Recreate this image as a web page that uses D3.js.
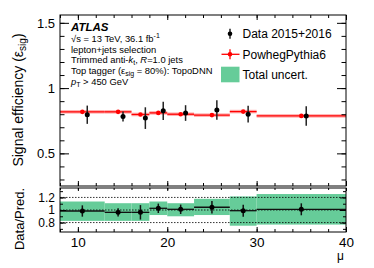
<html>
<script src='https://d3js.org/d3.v7.min.js'></script>
<style>
body {margin:0; background:#fff;}
text {font-family: 'Liberation Sans', Arial, sans-serif; fill:#000;}
.tick line {stroke:#000;}
</style>
<body onload='init()'>
<svg width=374 height=268></svg>
<script>
// bins in mu and the values
var binEdges = [8, 13, 16, 18, 20, 23, 27, 30, 40];
var mcEff    = [0.818, 0.818, 0.798, 0.810, 0.800, 0.793, 0.820, 0.787];
var dataEff  = [0.796, 0.783, 0.770, 0.826, 0.809, 0.832, 0.800, 0.786];
var dataErr  = [0.070, 0.038, 0.083, 0.070, 0.060, 0.075, 0.064, 0.074];
var ratio    = [0.984, 0.963, 0.963, 1.027, 1.011, 1.044, 0.989, 1.011];
var ratioErr = [0.090, 0.065, 0.115, 0.075, 0.075, 0.100, 0.095, 0.095];
var uncLo    = [0.827, 0.827, 0.827, 0.920, 0.900, 0.920, 0.750, 0.768];
var uncHi    = [1.135, 1.108, 1.108, 1.135, 1.108, 1.178, 1.216, 1.254];
var dataShift = 0.55;   // data markers drawn a bit right of bin centre

var xTicks = [10, 20, 30, 40];
var yTicks = [0.5, 1, 1.5];
var rTicks = [0.8, 1, 1.2];
var rLines = [0.8, 1, 1.2];

var legendItems = ["Data 2015+2016", "PowhegPythia6", "Total uncert."];

function init() {
  var svg = d3.select('svg');
  var green = "#66cc99";

  var x  = d3.scaleLinear().domain([8, 40]).range([60, 346]);
  var y  = d3.scaleLinear().domain([0.25, 1.56]).range([186, 15]);
  var yr = d3.scaleLinear().domain([0.65, 1.35]).range([232, 188]);

  var bins = d3.range(mcEff.length).map(function(i) {
    return {lo: binEdges[i], hi: binEdges[i+1], c: (binEdges[i] + binEdges[i+1]) / 2,
            mc: mcEff[i], d: dataEff[i], de: dataErr[i], r: ratio[i], re: ratioErr[i],
            ulo: uncLo[i], uhi: uncHi[i]};
  });

  // ---- ratio panel: uncertainty band
  var rp = svg.append('g');
  rp.selectAll('rect.unc').data(bins).enter().append('rect')
    .attr('x', function(d) { return x(d.lo); })
    .attr('width', function(d) { return x(d.hi) - x(d.lo); })
    .attr('y', function(d) { return yr(d.uhi); })
    .attr('height', function(d) { return yr(d.ulo) - yr(d.uhi); })
    .attr('fill', green);
  rp.selectAll('line.ref').data(rLines).enter().append('line')
    .attr('x1', x(8)).attr('x2', x(40))
    .attr('y1', function(d) { return yr(d); }).attr('y2', function(d) { return yr(d); })
    .attr('stroke', '#000').attr('stroke-width', 0.8).attr('stroke-dasharray', '1.5,1.5');
  rp.selectAll('line.rh').data(bins).enter().append('line')
    .attr('x1', function(d) { return x(d.lo); }).attr('x2', function(d) { return x(d.hi); })
    .attr('y1', function(d) { return yr(d.r); }).attr('y2', function(d) { return yr(d.r); })
    .attr('stroke', '#111').attr('stroke-width', 1.3);
  rp.selectAll('line.rv').data(bins).enter().append('line')
    .attr('x1', function(d) { return x(d.c); }).attr('x2', function(d) { return x(d.c); })
    .attr('y1', function(d) { return yr(d.r - d.re); }).attr('y2', function(d) { return yr(d.r + d.re); })
    .attr('stroke', '#111').attr('stroke-width', 1.5);
  rp.selectAll('circle').data(bins).enter().append('circle')
    .attr('cx', function(d) { return x(d.c); }).attr('cy', function(d) { return yr(d.r); })
    .attr('r', 2.5).attr('fill', '#000');

  // ---- main panel: MC lines
  var mp = svg.append('g');
  mp.selectAll('rect.mcband').data(bins).enter().append('rect')
    .attr('x', function(d) { return x(d.lo); })
    .attr('width', function(d) { return x(d.hi) - x(d.lo); })
    .attr('y', function(d) { return y(d.mc) - 1.8; })
    .attr('height', 3.6).attr('fill', '#ffb0b0');
  mp.selectAll('line.mc').data(bins).enter().append('line')
    .attr('x1', function(d) { return x(d.lo); }).attr('x2', function(d) { return x(d.hi); })
    .attr('y1', function(d) { return y(d.mc); }).attr('y2', function(d) { return y(d.mc); })
    .attr('stroke', '#ff0000').attr('stroke-width', 1.3);
  mp.selectAll('circle.mc').data(bins).enter().append('circle')
    .attr('cx', function(d) { return x(d.c); }).attr('cy', function(d) { return y(d.mc); })
    .attr('r', 2.3).attr('fill', '#ff0000');
  // data
  mp.selectAll('line.dv').data(bins).enter().append('line')
    .attr('x1', function(d) { return x(d.c + dataShift); }).attr('x2', function(d) { return x(d.c + dataShift); })
    .attr('y1', function(d) { return y(d.d - d.de); }).attr('y2', function(d) { return y(d.d + d.de); })
    .attr('stroke', '#222').attr('stroke-width', 1.5);
  mp.selectAll('circle.d').data(bins).enter().append('circle')
    .attr('cx', function(d) { return x(d.c + dataShift); }).attr('cy', function(d) { return y(d.d); })
    .attr('r', 2.5).attr('fill', '#000');

  // ---- axes, ROOT style ticks on every side
  function ticks(axis, scale, major, minor, tx, ty, bigLen, smallLen, labels, fsize) {
    var g1 = svg.append('g').attr('transform', 'translate(' + tx + ',' + ty + ')')
      .call(axis(scale).tickValues(minor).tickSize(-smallLen).tickFormat(''));
    var g2 = svg.append('g').attr('transform', 'translate(' + tx + ',' + ty + ')')
      .call(axis(scale).tickValues(major).tickSize(-bigLen).tickPadding(5)
        .tickFormat(labels ? d3.format('~g') : ''));
    [g1, g2].forEach(function(g) {
      g.select('.domain').remove();
      g.selectAll('text').attr('font-size', fsize || 13).attr('font-family', "'Liberation Sans', Arial, sans-serif");
    });
    return g2;
  }
  var xMinor = d3.range(8, 40.01, 2);
  var yMinor = d3.range(0.3, 1.56, 0.1);
  var rMinor = d3.range(0.7, 1.35, 0.1);
  // main panel
  ticks(d3.axisLeft, y, yTicks, yMinor, 60, 0, 9, 4.5, true, 13);
  ticks(d3.axisRight, y, yTicks, yMinor, 346, 0, 9, 4.5, false);
  ticks(d3.axisBottom, x, xTicks, xMinor, 0, 186, 5, 3, false);
  ticks(d3.axisTop, x, xTicks, xMinor, 0, 15, 5, 3, false);
  // ratio panel
  ticks(d3.axisLeft, yr, rTicks, rMinor, 60, 0, 6, 3, true, 12);
  ticks(d3.axisRight, yr, rTicks, rMinor, 346, 0, 6, 3, false);
  ticks(d3.axisBottom, x, xTicks, xMinor, 0, 232, 5, 3, true, 13.5);
  ticks(d3.axisTop, x, xTicks, xMinor, 0, 188, 3, 2, false);

  // frames
  svg.append('rect').attr('x', 60).attr('y', 15).attr('width', 286).attr('height', 171)
    .attr('fill', 'none').attr('stroke', '#000').attr('stroke-width', 1);
  svg.append('rect').attr('x', 60).attr('y', 188).attr('width', 286).attr('height', 44)
    .attr('fill', 'none').attr('stroke', '#000').attr('stroke-width', 1);

  // axis titles
  var yl = svg.append('text').attr('transform', 'translate(23,100) rotate(-90)')
    .attr('text-anchor', 'middle').attr('font-size', 14);
  yl.append('tspan').text('Signal efficiency (\u03b5');
  yl.append('tspan').attr('font-size', 10).attr('dy', 3).text('sig');
  yl.append('tspan').attr('dy', -3).text(')');
  svg.append('text').attr('transform', 'translate(24,219) rotate(-90)')
    .attr('text-anchor', 'middle').attr('font-size', 13).text('Data/Pred.');
  svg.append('text').attr('x', 344).attr('y', 260).attr('text-anchor', 'end')
    .attr('font-size', 12).text('\u03bc');

  // ATLAS label block
  svg.append('text').attr('x', 71).attr('y', 30.5).attr('font-size', 11.5)
    .attr('font-weight', 'bold').attr('font-style', 'italic').text('ATLAS');
  var fs = 9.4;
  var l1 = svg.append('text').attr('x', 71).attr('y', 41.7).attr('font-size', fs);
  l1.append('tspan').text('\u221As = 13 TeV, 36.1 fb');
  l1.append('tspan').attr('font-size', 7).attr('dy', -3.5).text('-1');
  svg.append('text').attr('x', 71).attr('y', 52.5).attr('font-size', fs).text('lepton+jets selection');
  var l3 = svg.append('text').attr('x', 71).attr('y', 63.3).attr('font-size', fs);
  l3.append('tspan').text('Trimmed anti-');
  l3.append('tspan').attr('font-style', 'italic').text('k');
  l3.append('tspan').attr('font-size', 7).attr('dy', 2).text('t');
  l3.append('tspan').attr('dy', -2).text(', ');
  l3.append('tspan').attr('font-style', 'italic').text('R');
  l3.append('tspan').text('=1.0 jets');
  var l4 = svg.append('text').attr('x', 71).attr('y', 74).attr('font-size', fs);
  l4.append('tspan').text('Top tagger (\u03b5');
  l4.append('tspan').attr('font-size', 7).attr('dy', 2).text('sig');
  l4.append('tspan').attr('dy', -2).text(' = 80%): TopoDNN');
  var l5 = svg.append('text').attr('x', 71).attr('y', 85).attr('font-size', fs);
  l5.append('tspan').attr('font-style', 'italic').text('p');
  l5.append('tspan').attr('font-size', 7).attr('dy', 2).text('T');
  l5.append('tspan').attr('dy', -2).text(' > 450 GeV');

  // legend
  var lg = svg.append('g');
  var ly = [33.7, 54.3, 74.5];
  lg.selectAll('text').data(legendItems).enter().append('text')
    .attr('x', 242.5).attr('y', function(d, i) { return ly[i] + 4.3; })
    .attr('font-size', 12).text(function(d) { return d; });
  // data marker
  lg.append('line').attr('x1', 230).attr('x2', 230).attr('y1', ly[0] - 5).attr('y2', ly[0] + 5)
    .attr('stroke', '#000').attr('stroke-width', 1.3);
  lg.append('circle').attr('cx', 230).attr('cy', ly[0]).attr('r', 2.3).attr('fill', '#000');
  // mc marker
  lg.append('line').attr('x1', 221.5).attr('x2', 239.5).attr('y1', ly[1]).attr('y2', ly[1])
    .attr('stroke', '#ff0000').attr('stroke-width', 1.3);
  lg.append('line').attr('x1', 230).attr('x2', 230).attr('y1', ly[1] - 5).attr('y2', ly[1] + 5)
    .attr('stroke', '#ff0000').attr('stroke-width', 1.3);
  lg.append('circle').attr('cx', 230).attr('cy', ly[1]).attr('r', 2.3).attr('fill', '#ff0000');
  // band marker
  lg.append('rect').attr('x', 221).attr('y', ly[2] - 7.8).attr('width', 18.5).attr('height', 15.6)
    .attr('fill', green);
}
</script>
</body>
</html>
